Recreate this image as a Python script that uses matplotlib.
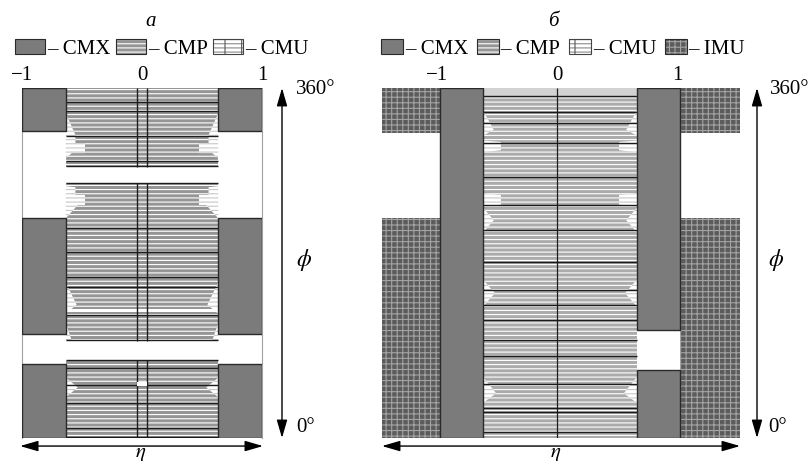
import matplotlib
matplotlib.use('Agg')
import matplotlib.pyplot as plt
from matplotlib.patches import Rectangle, Polygon, Patch

plt.rcParams['font.family'] = ['Liberation Serif', 'DejaVu Serif']
plt.rcParams['mathtext.fontset'] = 'stix'
plt.rcParams['hatch.linewidth'] = 0.8

# ---------------- data ----------------
tick_pos = [-1, 0, 1]
tick_labels = ['\u22121', '0', '1']
legend_a = ['\u2013 CMX', '\u2013 CMP', '\u2013 CMU']
legend_b = ['\u2013 CMX', '\u2013 CMP', '\u2013 CMU', '\u2013 IMU']

# panel а
a_cmp_edge = 0.635                     # |eta| where CMP ends / CMX starts
a_cmx_outer = 1.0
a_cmx_phi = [(0, 76), (107, 226), (316, 360)]
a_cmp_phi = [(0, 80), (100, 262), (279, 360)]
a_white_lines = [(130, 133)]
a_white_spot = [(53.5, 57.6)]
a_center_eta = [-0.045, 0.045]
a_black_phi = [345.6, 336.4, 310.6, 284.9, 279.8, 262.3, 216, 191.3, 165.6,
               155.3, 126.5, 100.8, 80.2, 72, 54.5, 36, 10.3, 1.0]
a_notches = [
    [(334, 0), (311.7, 0.08), (303.4, 0.08), (303.4, 0.16), (293, 0.16), (293, 0.05), (288, 0)],
    [(259, 0), (258, 0.08), (250, 0.08), (250, 0.16), (239.7, 0.16), (239.7, 0.1), (226, 0)],
    [(160, 0), (137, 0.09), (128, 0)],
    [(118, 0), (100, 0.05), (100, 0)],
    [(62, 0), (52, 0.1), (42, 0)],
]

# panel б
b_xlim = (-1.458, 1.525)
b_cmp_eta = (-0.617, 0.667)
b_cmx_left_eta = (-0.975, -0.617)
b_cmx_right_eta = (0.667, 1.025)
b_cmx_left_phi = [(0, 360)]
b_cmx_right_phi = [(0, 70), (111, 360)]
b_imu_phi = [(0, 226), (314, 360)]
b_light_top = [(352, 360)]
b_black_phi = [351.8, 335.3, 324, 303.4, 268.5, 239.7, 214, 181, 152.2, 136.8,
               121.4, 100.8, 84.3, 55.5, 30.9, 26.7, 6.2]
b_notches = [
    [(337, 0), (317, 0.09), (311, 0)],
    [(306, 0), (304.5, 0.15), (296, 0.15), (294, 0)],
    [(252, 0), (250, 0.15), (240, 0.15), (238, 0)],
    [(237, 0), (224, 0.09), (211, 0)],
    [(163, 0), (149, 0.1), (135, 0)],
    [(63, 0), (46, 0.11), (36, 0)],
]

# ---------------- style ----------------
C_CMX = '#7b7b7b'
C_CMX_EDGE = '#2a2a2a'
C_CMP_A = '#959595'
C_CMP_B = '#ababab'
C_IMU = '#5c5c5c'
C_IMU_H = '#a3a3a3'
C_NOTCH_H = '#c8c8c8'
FS = 15

W, H = 809, 463
fig = plt.figure(figsize=(W / 100, H / 100), dpi=100)


def px_axes(x0, x1, y0, y1):
    return fig.add_axes([x0 / W, 1 - y1 / H, (x1 - x0) / W, (y1 - y0) / H])


def fx(x):
    return x / W


def fy(y):
    return 1 - y / H


def add_notches(ax, notches, left_edge, right_edge, z=2):
    for pts in notches:
        left = [(left_edge + d, p) for p, d in pts]
        right = [(right_edge - d, p) for p, d in pts]
        for xy in (left, right):
            ax.add_patch(Polygon(xy, closed=True, facecolor='white', edgecolor=C_NOTCH_H,
                                 hatch='----', lw=0, zorder=z))


def style_axes(ax, xlim):
    ax.set_xlim(*xlim)
    ax.set_ylim(0, 360)
    ax.set_xticks(tick_pos, tick_labels)
    ax.set_yticks([])
    ax.tick_params(axis='x', top=True, labeltop=True, bottom=False, labelbottom=False,
                   length=0, pad=2, labelsize=FS)


def arrows(ax, xfrac, x0f, x1f):
    ap = dict(arrowstyle='<|-|>,head_length=0.55,head_width=0.16', color='black', lw=1.0,
              mutation_scale=20, shrinkA=0, shrinkB=0)
    ax.annotate('', xy=(xfrac, 1.0), xytext=(xfrac, 0.0), xycoords='axes fraction',
                textcoords='axes fraction', arrowprops=ap, annotation_clip=False)
    ax.annotate('', xy=(x1f, -0.023), xytext=(x0f, -0.023), xycoords='axes fraction',
                textcoords='axes fraction', arrowprops=ap, annotation_clip=False)


# ---------------- panel а ----------------
axa = px_axes(22, 262, 88, 438)
style_axes(axa, (-1, 1))
for s in ('top', 'bottom'):
    axa.spines[s].set_visible(False)
for s in ('left', 'right'):
    axa.spines[s].set_color('#a0a0a0')
    axa.spines[s].set_linewidth(0.8)

for lo, hi in a_cmp_phi:
    axa.add_patch(Rectangle((-a_cmp_edge, lo), 2 * a_cmp_edge, hi - lo, facecolor=C_CMP_A,
                            edgecolor='white', hatch='----', lw=0, zorder=1))
add_notches(axa, a_notches, -a_cmp_edge, a_cmp_edge)
for lo, hi in a_white_lines:
    axa.add_patch(Rectangle((-a_cmp_edge, lo), 2 * a_cmp_edge, hi - lo, facecolor='white',
                            lw=0, zorder=3))
axa.hlines(a_black_phi, -a_cmp_edge, a_cmp_edge, colors='#1c1c1c', lw=1.0, zorder=4)
for lo, hi in a_cmp_phi:
    axa.vlines(a_center_eta, lo, hi, colors='#1c1c1c', lw=1.0, zorder=4)
for lo, hi in a_white_spot:
    axa.add_patch(Rectangle((a_center_eta[0], lo), a_center_eta[1] - a_center_eta[0], hi - lo,
                            facecolor='white', lw=0, zorder=5))
for lo, hi in a_cmx_phi:
    for x0 in (-a_cmx_outer, a_cmp_edge):
        axa.add_patch(Rectangle((x0, lo), a_cmx_outer - a_cmp_edge, hi - lo, facecolor=C_CMX,
                                edgecolor=C_CMX_EDGE, lw=1.0, zorder=6))

arrows(axa, (282 - 22) / 240, -0.008, 1.004)
fig.text(fx(296), fy(90), '360°', fontsize=FS, ha='left', va='center')
fig.text(fx(296), fy(428), '0°', fontsize=FS, ha='left', va='center')
fig.text(fx(296), fy(260), r'$\phi$', fontsize=FS + 2, ha='left', va='center')
fig.text(fx(141), fy(457), r'$\eta$', fontsize=FS, ha='center', va='baseline')
fig.text(fx(151), fy(21), '\u0430', fontsize=FS, style='italic', ha='center', va='center')

# ---------------- panel б ----------------
axb = px_axes(382, 740, 88, 438)
style_axes(axb, b_xlim)
for s in axb.spines.values():
    s.set_visible(False)

axb.add_patch(Rectangle((b_cmp_eta[0], 0), b_cmp_eta[1] - b_cmp_eta[0], 360, facecolor=C_CMP_B,
                        edgecolor='white', hatch='----', lw=0, zorder=1))
for lo, hi in b_light_top:
    axb.add_patch(Rectangle((b_cmp_eta[0], lo), b_cmp_eta[1] - b_cmp_eta[0], hi - lo,
                            facecolor='#d2d2d2', lw=0, zorder=1.5))
add_notches(axb, b_notches, b_cmp_eta[0], b_cmp_eta[1])
axb.hlines(b_black_phi, b_cmp_eta[0], b_cmp_eta[1], colors='#1c1c1c', lw=1.0, zorder=4)
axb.vlines([0], 0, 360, colors='#1c1c1c', lw=0.9, zorder=4)
for lo, hi in b_imu_phi:
    for x0, x1 in ((b_xlim[0], b_cmx_left_eta[0]), (b_cmx_right_eta[1], b_xlim[1])):
        axb.add_patch(Rectangle((x0, lo), x1 - x0, hi - lo, facecolor=C_IMU, edgecolor=C_IMU_H,
                                hatch='+++', lw=0, zorder=5))
for lo, hi in b_cmx_left_phi:
    axb.add_patch(Rectangle((b_cmx_left_eta[0], lo), b_cmx_left_eta[1] - b_cmx_left_eta[0], hi - lo,
                            facecolor=C_CMX, edgecolor=C_CMX_EDGE, lw=1.0, zorder=6))
for lo, hi in b_cmx_right_phi:
    axb.add_patch(Rectangle((b_cmx_right_eta[0], lo), b_cmx_right_eta[1] - b_cmx_right_eta[0], hi - lo,
                            facecolor=C_CMX, edgecolor=C_CMX_EDGE, lw=1.0, zorder=6))

arrows(axb, (757 - 382) / 358, 0.0, 1.0)
fig.text(fx(770), fy(90), '360°', fontsize=FS, ha='left', va='center')
fig.text(fx(768), fy(428), '0°', fontsize=FS, ha='left', va='center')
fig.text(fx(768), fy(260), r'$\phi$', fontsize=FS + 2, ha='left', va='center')
fig.text(fx(556), fy(457), r'$\eta$', fontsize=FS, ha='center', va='baseline')
fig.text(fx(553), fy(21), '\u0431', fontsize=FS, style='italic', ha='center', va='center')

# ---------------- legends ----------------
def h_cmx():
    return Patch(facecolor=C_CMX, edgecolor=C_CMX_EDGE, lw=0.8)


def h_cmp():
    return (Patch(facecolor=C_CMP_A, edgecolor='white', hatch='----', lw=0),
            Patch(facecolor='none', edgecolor=C_CMX_EDGE, lw=0.8))


def h_cmu():
    return (Patch(facecolor='white', edgecolor='#8a8a8a', hatch='----', lw=0),
            Patch(facecolor='none', edgecolor='#555555', hatch='|', lw=0),
            Patch(facecolor='none', edgecolor='#444444', lw=0.8))


def h_imu():
    return (Patch(facecolor=C_IMU, edgecolor=C_IMU_H, hatch='+++', lw=0),
            Patch(facecolor='none', edgecolor=C_CMX_EDGE, lw=0.8))


fig.legend([h_cmx(), h_cmp(), h_cmu()], legend_a, loc='center left',
           bbox_to_anchor=(fx(15), fy(49)), ncol=3, frameon=False, fontsize=FS,
           handlelength=1.45, handleheight=0.68, handletextpad=0.1, columnspacing=0.25,
           borderpad=0, borderaxespad=0)
fig.legend([h_cmx(), h_cmp(), h_cmu(), h_imu()], legend_b, loc='center left',
           bbox_to_anchor=(fx(381), fy(49)), ncol=4, frameon=False, fontsize=FS,
           handlelength=1.05, handleheight=0.68, handletextpad=0.1, columnspacing=0.4,
           borderpad=0, borderaxespad=0)

fig.savefig('out.png', dpi=100)
